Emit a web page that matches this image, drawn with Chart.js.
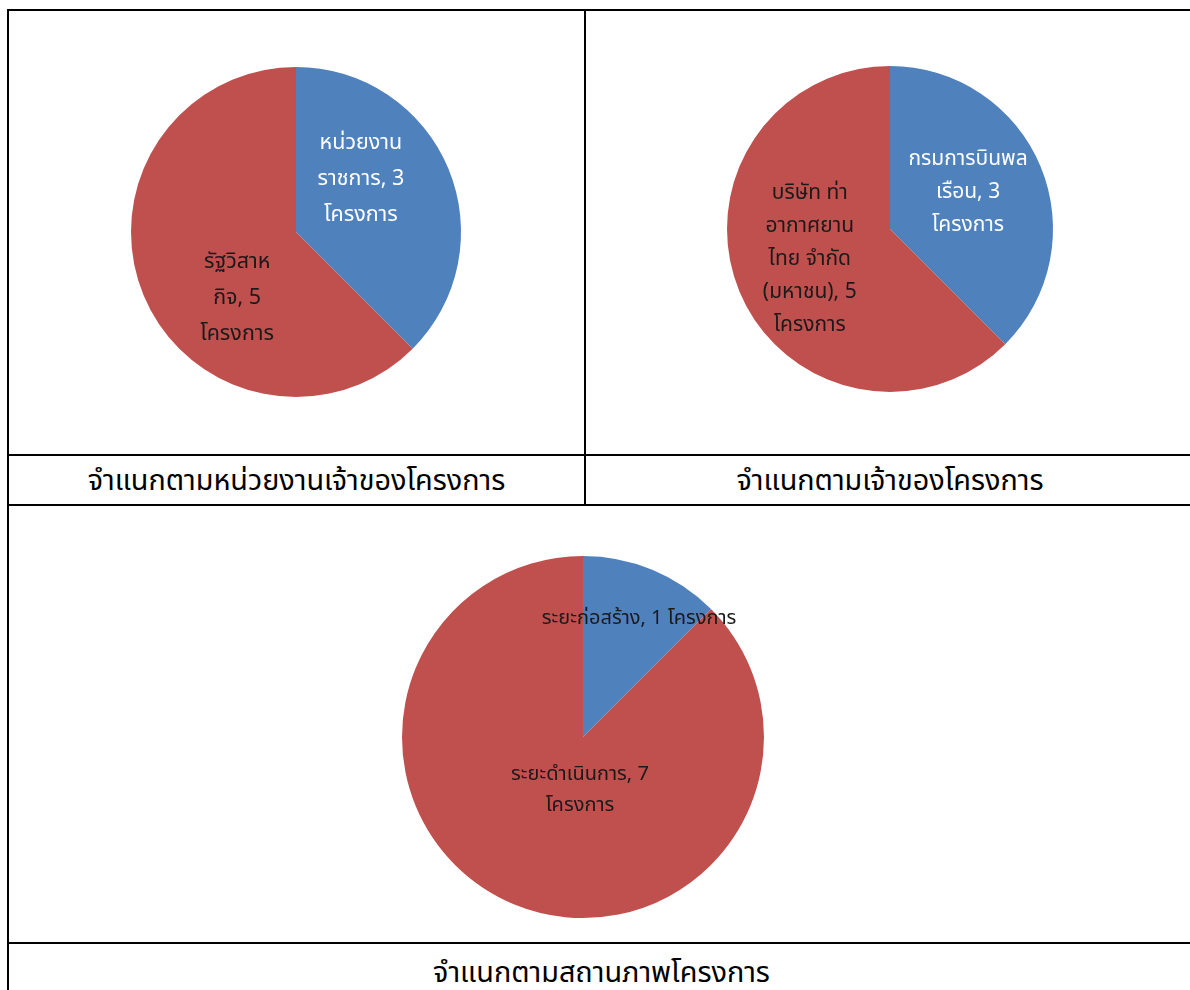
<!DOCTYPE html>
<html>
<head>
<meta charset="utf-8">
<script src="https://cdn.jsdelivr.net/npm/chart.js@4.4.0/dist/chart.umd.min.js"></script>
<style>
  html, body { margin:0; padding:0; background:#fff; }
  body { width:1190px; height:990px; overflow:hidden; position:relative;
         font-family:'Noto Sans Thai','Leelawadee UI',Tahoma,'Noto Sans',sans-serif; }
  .ln { position:absolute; background:#000; }
  .cap { position:absolute; text-align:center; font-size:28.8px; color:#000; line-height:1; white-space:nowrap; }
  canvas { position:absolute; }
</style>
</head>
<body>
<div class="ln" style="left:8px;top:9px;width:1190px;height:2px"></div>
<div class="ln" style="left:7px;top:9px;width:2px;height:990px"></div>
<div class="ln" style="left:584px;top:9px;width:2px;height:497px"></div>
<div class="ln" style="left:8px;top:454px;width:1190px;height:2px"></div>
<div class="ln" style="left:8px;top:504px;width:1190px;height:2px"></div>
<div class="ln" style="left:8px;top:942px;width:1190px;height:2px"></div>

<div class="cap" id="cap1" style="left:8px;width:577px;top:467px"></div>
<div class="cap" id="cap2" style="left:585px;width:610px;top:467px"></div>
<div class="cap" id="cap3" style="left:8px;width:1187px;top:959px"></div>

<canvas id="c1" width="400" height="400" style="left:96px;top:32px"></canvas>
<canvas id="c2" width="400" height="400" style="left:690px;top:29px"></canvas>
<canvas id="c3" width="400" height="400" style="left:383px;top:537px"></canvas>

<script>
// ---- Data ----
const chartTitles = ["จำแนกตามหน่วยงานเจ้าของโครงการ", "จำแนกตามเจ้าของโครงการ", "จำแนกตามสถานภาพโครงการ"];
const unitText = "โครงการ";

const agencyCategories = ["หน่วยงานราชการ", "รัฐวิสาหกิจ"];
const agencyValues = [3, 5];
const agencyLabelLines = [["หน่วยงาน", "ราชการ"], ["รัฐวิสาห", "กิจ"]];

const ownerCategories = ["กรมการบินพลเรือน", "บริษัท ท่าอากาศยานไทย จำกัด (มหาชน)"];
const ownerValues = [3, 5];
const ownerLabelLines = [["กรมการบินพล", "เรือน"], ["บริษัท ท่า", "อากาศยาน", "ไทย จำกัด", "(มหาชน)"]];

const statusCategories = ["ระยะก่อสร้าง", "ระยะดำเนินการ"];
const statusValues = [1, 7];
const statusLabelLines = [["ระยะก่อสร้าง"], ["ระยะดำเนินการ"]];

const sliceColors = ["#4F81BD", "#C0504D"];

// build "category, value โครงการ" label lines
function buildLines(catLines, values, unitSameLine) {
  return catLines.map((lines, i) => {
    const out = lines.slice(0, -1);
    const last = lines[lines.length - 1] + ", " + values[i];
    if (unitSameLine[i]) out.push(last + " " + unitText);
    else { out.push(last); out.push(unitText); }
    return out;
  });
}

const sliceLabelPlugin = {
  id: 'sliceLabels',
  afterDatasetsDraw(chart, args, opts) {
    const ctx = chart.ctx;
    const meta = chart.getDatasetMeta(0);
    ctx.save();
    ctx.font = opts.font;
    ctx.textAlign = 'center';
    ctx.textBaseline = 'middle';
    meta.data.forEach((arc, i) => {
      const p = opts.place[i];
      const a = arc.getProps(['x', 'y', 'startAngle', 'endAngle', 'outerRadius'], true);
      const ang = (a.startAngle + a.endAngle) / 2 + p.shift * Math.PI / 180;
      const r = a.outerRadius * p.frac;
      const cx = a.x + Math.cos(ang) * r;
      const cy = a.y + Math.sin(ang) * r;
      const lines = opts.lines[i];
      const lh = opts.lineHeight;
      ctx.fillStyle = p.color;
      lines.forEach((t, k) => {
        ctx.fillText(t, cx, cy + (k - (lines.length - 1) / 2) * lh);
      });
    });
    ctx.restore();
  }
};

const fontStack = "'Noto Sans Thai','Leelawadee UI',Tahoma,'Noto Sans',sans-serif";

function makePie(id, categories, values, radius, lines, place, lineHeight, fontSize) {
  return new Chart(document.getElementById(id), {
    type: 'pie',
    data: {
      labels: categories,
      datasets: [{ data: values, backgroundColor: sliceColors, borderWidth: 0 }]
    },
    options: {
      responsive: false,
      animation: false,
      radius: radius,
      layout: { padding: 0 },
      plugins: {
        legend: { display: false },
        tooltip: { enabled: false },
        title: { display: false },
        sliceLabels: { font: fontSize + "px " + fontStack, lines: lines, place: place, lineHeight: lineHeight }
      }
    },
    plugins: [sliceLabelPlugin]
  });
}

makePie('c1', agencyCategories, agencyValues, 165,
  buildLines(agencyLabelLines, agencyValues, [false, false]),
  [{ shift: -15.6, frac: 0.50, color: '#ffffff' }, { shift: -26.6, frac: 0.545, color: '#1a1a1a' }], 36, 21.5);

makePie('c2', ownerCategories, ownerValues, 163,
  buildLines(ownerLabelLines, ownerValues, [false, false]),
  [{ shift: -1.7, frac: 0.525, color: '#ffffff' }, { shift: 0.7, frac: 0.53, color: '#1a1a1a' }], 33, 21);

makePie('c3', statusCategories, statusValues, 181,
  buildLines(statusLabelLines, statusValues, [true, false]),
  [{ shift: 3.1, frac: 0.717, color: '#1a1a1a' }, { shift: -19.3, frac: 0.30, color: '#1a1a1a' }], 31.5, 20);

document.getElementById('cap1').textContent = chartTitles[0];
document.getElementById('cap2').textContent = chartTitles[1];
document.getElementById('cap3').textContent = chartTitles[2];
</script>
</body>
</html>
